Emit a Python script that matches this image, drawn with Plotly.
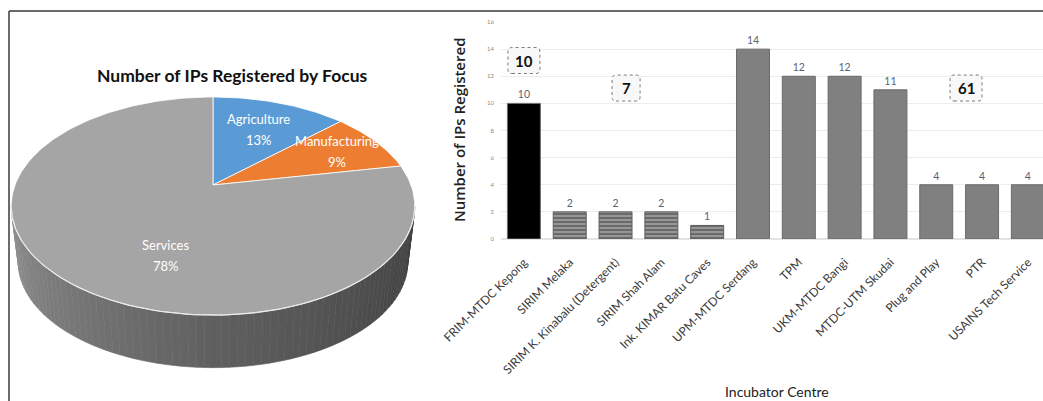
import math
import plotly.graph_objects as go

# ---------------- data ----------------
focus_labels = ["Agriculture", "Manufacturing", "Services"]
focus_pct = [13, 9, 78]

centres = ["FRIM-MTDC Kepong", "SIRIM Melaka", "SIRIM K. Kinabalu (Detergent)",
           "SIRIM Shah Alam", "Ink. KIMAR Batu Caves", "UPM-MTDC Serdang", "TPM",
           "UKM-MTDC Bangi", "MTDC-UTM Skudai", "Plug and Play", "PTR",
           "USAINS Tech Service"]
ips_registered = [10, 2, 2, 2, 1, 14, 12, 12, 11, 4, 4, 4]
centre_group = ["A", "B", "B", "B", "B", "C", "C", "C", "C", "C", "C", "C"]

# ---------------- styles ----------------
W, H = 1043, 401
pie_colors = {"Agriculture": "#5b9bd5", "Manufacturing": "#ed7d31", "Services": "#a5a5a5"}
# label placement: (radius fraction, angle offset in degrees)
pie_label_place = {"Agriculture": (0.65, 0), "Manufacturing": (0.75, 0), "Services": (0.63, -20)}

group_style = {
    "A": dict(color="#000000", shape="", line="#6f6f6f"),
    "B": dict(color="#6a6a6a", shape="-", line="#5e5e5e"),
    "C": dict(color="#808080", shape="", line="#6a6a6a"),
}
group_box = {"A": (0.0, 13.16), "B": (2.23, 11.13), "C": (9.65, 11.13)}

# projected 3D pie geometry (pixels)
CX, CY, K, K2, P = 213.0, 185.0, 198.0, 105.0, 0.193
CXb, CYb, Kb, K2b = 213.0, 242.0, 191.0, 101.4


def proj(theta, f=1.0, bottom=False):
    t = math.radians(theta)
    X, Z = f * math.sin(t), f * math.cos(t)
    d = 1 + P * Z
    if bottom:
        return CXb + Kb * X / d, CYb - K2b * Z / d
    return CX + K * X / d, CY - K2 * Z / d


fig = go.Figure()

# ---- pie side (gradient strips) ----
t_right = math.degrees(math.acos(-P))
t_left = 360 - t_right
N = 80
for i in range(N):
    a0 = t_right + (t_left - t_right) * i / N
    a1 = t_right + (t_left - t_right) * (i + 1) / N
    u = (i + 0.5) / N
    if u < 0.5:
        v = 62 + (96 - 62) * (u / 0.5)
    else:
        v = 96 + (145 - 96) * ((u - 0.5) / 0.5)
    v = int(v)
    col = f"rgb({v},{v},{v})"
    p1 = proj(a0); p2 = proj(a1); p3 = proj(a1, bottom=True); p4 = proj(a0, bottom=True)
    fig.add_trace(go.Scatter(
        x=[p1[0], p2[0], p3[0], p4[0], p1[0]], y=[p1[1], p2[1], p3[1], p4[1], p1[1]],
        xaxis="x2", yaxis="y2", mode="lines", fill="toself", fillcolor=col,
        line=dict(color=col, width=0.6), hoverinfo="skip", showlegend=False))

# ---- pie top slices ----
start = 0.0
total = sum(focus_pct)
for lab, pct in zip(focus_labels, focus_pct):
    span = 360.0 * pct / total
    end = start + span
    n = max(int(span), 2)
    xs, ys = [CX], [CY]
    for k in range(n + 1):
        px, py = proj(start + span * k / n)
        xs.append(px); ys.append(py)
    xs.append(CX); ys.append(CY)
    fig.add_trace(go.Scatter(
        x=xs, y=ys, xaxis="x2", yaxis="y2", mode="lines", fill="toself",
        fillcolor=pie_colors[lab], line=dict(color="white", width=0.8),
        hoverinfo="skip", showlegend=False))
    f, off = pie_label_place[lab]
    lx, ly = proj(start + span / 2 + off, f)
    fig.add_annotation(x=lx, y=ly - 10, xref="x2", yref="y2", text=lab, showarrow=False,
                       font=dict(family="Lato", size=13, color="white"))
    fig.add_annotation(x=lx, y=ly + 11, xref="x2", yref="y2", text=f"{pct}%", showarrow=False,
                       font=dict(family="Lato", size=13, color="white"))
    start = end

# front-edge highlight
hx, hy = [], []
for k in range(101):
    a = t_right + (t_left - t_right) * k / 100
    px, py = proj(a)
    hx.append(px); hy.append(py)
fig.add_trace(go.Scatter(x=hx, y=hy, xaxis="x2", yaxis="y2", mode="lines",
                         line=dict(color="rgba(235,235,235,0.9)", width=1.2),
                         hoverinfo="skip", showlegend=False))

fig.add_annotation(x=232, y=75, xref="x2", yref="y2", text="<b>Number of IPs Registered by Focus</b>",
                   showarrow=False, font=dict(family="Lato", size=17.5, color="#111"))

# ---- bar chart ----
fig.add_trace(go.Bar(
    x=centres, y=ips_registered,
    marker=dict(
        color=[group_style[g]["color"] for g in centre_group],
        line=dict(color=[group_style[g]["line"] for g in centre_group], width=1),
        pattern=dict(shape=[group_style[g]["shape"] for g in centre_group],
                     fgcolor="#c8c8c8", size=4, solidity=0.3,
                     fillmode="overlay")),
    text=ips_registered, texttemplate="%{y}", textposition="outside", cliponaxis=False,
    textfont=dict(family="Lato", size=10.5, color="#5b6172"),
    showlegend=False, hoverinfo="skip"))

# group total boxes
for g in ["A", "B", "C"]:
    tot = sum(v for v, gg in zip(ips_registered, centre_group) if gg == g)
    txt = str(tot)
    gx, gy = group_box[g]
    hw = 14 if len(txt) == 1 else 16
    hh = 13
    r = 4
    path = (f"M {-hw + r},{-hh} L {hw - r},{-hh} Q {hw},{-hh} {hw},{-hh + r} "
            f"L {hw},{hh - r} Q {hw},{hh} {hw - r},{hh} L {-hw + r},{hh} "
            f"Q {-hw},{hh} {-hw},{hh - r} L {-hw},{-hh + r} Q {-hw},{-hh} {-hw + r},{-hh} Z")
    fig.add_shape(type="path", path=path, xref="x", yref="y", xsizemode="pixel",
                  ysizemode="pixel", xanchor=gx, yanchor=gy,
                  line=dict(color="#7a7a7a", width=1, dash="dot"), fillcolor="#f8f8f8")
    fig.add_annotation(x=gx, y=gy, xref="x", yref="y", text=f"<b>{txt}</b>", showarrow=False,
                       font=dict(family="Lato", size=15, color="#111"))

# axis titles
fig.add_annotation(x=459 / W, y=(H - 130) / H, xref="paper", yref="paper",
                   xanchor="center", yanchor="middle",
                   text="Number of IPs Registered", textangle=-90, showarrow=False,
                   font=dict(family="Open Sans", size=15, color="#222", weight=600))
fig.add_annotation(x=777 / W, y=(H - 391) / H, xref="paper", yref="paper",
                   xanchor="center", yanchor="middle",
                   text="Incubator Centre", showarrow=False,
                   font=dict(family="Lato", size=14, color="#222"))

# frame lines
fig.add_shape(type="line", xref="paper", yref="paper", x0=9 / W, x1=1, y0=(H - 11) / H, y1=(H - 11) / H,
              line=dict(color="#3a3a3a", width=1.5))
fig.add_shape(type="line", xref="paper", yref="paper", x0=9 / W, x1=9 / W, y0=0, y1=(H - 11) / H,
              line=dict(color="#3a3a3a", width=1.5))

fig.update_layout(
    width=W, height=H, margin=dict(l=0, r=0, t=0, b=0, pad=0, autoexpand=False),
    paper_bgcolor="white", plot_bgcolor="rgba(0,0,0,0)",
    bargap=0.28,
    xaxis=dict(domain=[501 / W, 1.0], type="category", range=[-0.5, 11.33],
               tickangle=-45, tickfont=dict(family="Lato", size=12, color="#3a3a3a"),
               showgrid=False, showline=False, ticks="", anchor="y", automargin=False,
               ticklabelstandoff=13),
    yaxis=dict(domain=[(H - 239) / H, (H - 22) / H], range=[0, 16], dtick=2,
               gridcolor="#ececec", gridwidth=1, zeroline=True, zerolinecolor="#e4e4e4",
               tickfont=dict(family="Lato", size=6, color="#8a8a8a"), ticks="",
               showline=False, anchor="x", ticklabelstandoff=6, automargin=False),
    xaxis2=dict(domain=[0, 1], range=[0, W], visible=False, anchor="y2", fixedrange=True,
                automargin=False),
    yaxis2=dict(domain=[0, 1], range=[H, 0], visible=False, anchor="x2", fixedrange=True,
                automargin=False),
)

fig.write_html("out.html")
